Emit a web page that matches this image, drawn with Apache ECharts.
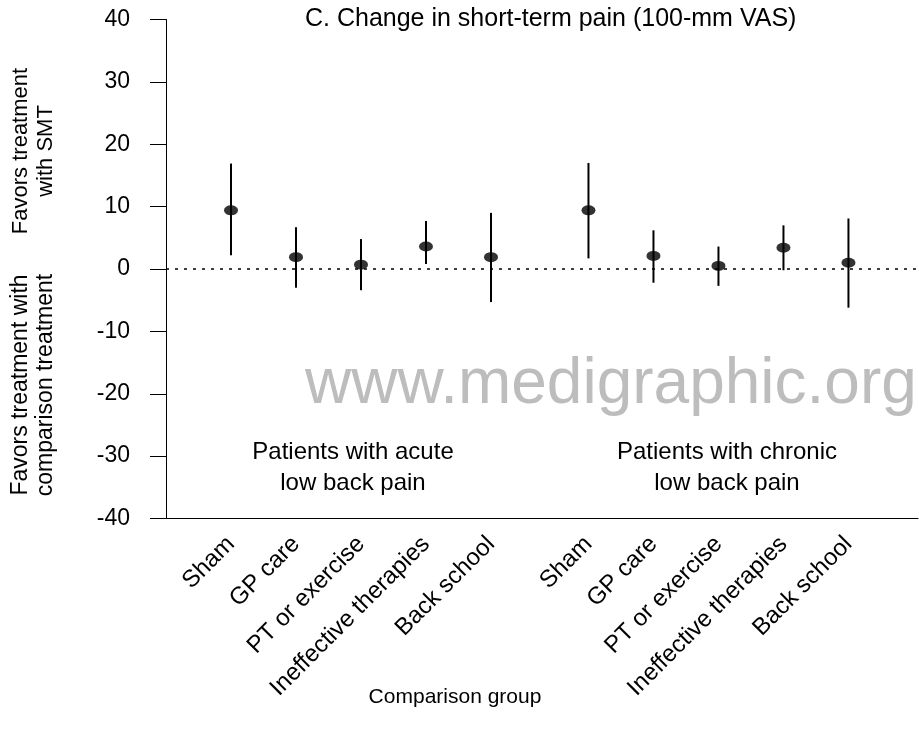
<!DOCTYPE html>
<html>
<head>
<meta charset="utf-8">
<script src="https://cdn.jsdelivr.net/npm/echarts@6/dist/echarts.min.js"></script>
<style>
html,body{margin:0;padding:0;background:#fff;}
#chart{width:919px;height:737px;}
</style>
</head>
<body>
<div id="chart"></div>
<script>
// ---- data ----
const categories = ['Sham', 'GP care', 'PT or exercise', 'Ineffective therapies', 'Back school'];
const groupLabels = ['Patients with acute\nlow back pain', 'Patients with chronic\nlow back pain'];
const acuteMean  = [9.4, 1.9, 0.7, 3.6, 1.9];
const acuteLower = [2.2, -3.0, -3.4, 0.8, -5.3];
const acuteUpper = [16.9, 6.7, 4.8, 7.7, 9.0];
const chronicMean  = [9.4, 2.1, 0.5, 3.4, 1.0];
const chronicLower = [1.7, -2.2, -2.7, -0.2, -6.2];
const chronicUpper = [17.0, 6.2, 3.6, 7.0, 8.1];
const yMin = -40, yMax = 40, yStep = 10;
const titleText = 'C. Change in short-term pain (100-mm VAS)';
const xAxisName = 'Comparison group';
const yUpperName = 'Favors treatment\nwith SMT';
const yLowerName = 'Favors treatment with\ncomparison treatment';
const watermark = 'www.medigraphic.org';

// ---- build positions: group g, item i -> x = g*5.5 + i + 1 ----
const groupsData = [
  {mean: acuteMean, lo: acuteLower, hi: acuteUpper},
  {mean: chronicMean, lo: chronicLower, hi: chronicUpper}
];
const xs = [], labels = [], points = [], bars = [];
groupsData.forEach((g, gi) => {
  categories.forEach((c, i) => {
    const x = gi * 5.5 + i + 1;
    xs.push(x);
    labels.push(c);
    points.push([x, g.mean[i]]);
    bars.push([x, g.lo[i], g.hi[i]]);
  });
});

const FONT = '"Liberation Sans", Arial, Helvetica, sans-serif';
const chart = echarts.init(document.getElementById('chart'), null, {renderer: 'canvas'});
chart.setOption({
  animation: false,
  backgroundColor: '#fff',
  textStyle: {fontFamily: FONT, color: '#000'},
  grid: {left: 166, top: 19.5, right: 1, bottom: 218.5, containLabel: false},
  xAxis: {
    type: 'value', min: 0, max: 11.57,
    axisLine: {show: true, onZero: false, lineStyle: {color: '#000', width: 1}},
    axisTick: {show: false},
    splitLine: {show: false},
    axisLabel: {
      customValues: xs, rotate: 45, margin: 22,
      fontSize: 24, fontFamily: FONT, color: '#000',
      formatter: v => { const k = xs.findIndex(x => Math.abs(x - v) < 1e-6); return k >= 0 ? labels[k] : ''; }
    }
  },
  yAxis: {
    type: 'value', min: yMin, max: yMax, interval: yStep,
    axisLine: {show: true, lineStyle: {color: '#000', width: 1}},
    axisTick: {show: true, length: 16, lineStyle: {color: '#000', width: 1}},
    splitLine: {show: false},
    axisLabel: {margin: 36, fontSize: 23, fontFamily: FONT, color: '#000'}
  },
  series: [
    {
      type: 'custom',
      data: bars,
      renderItem: (params, api) => {
        const p1 = api.coord([api.value(0), api.value(1)]);
        const p2 = api.coord([api.value(0), api.value(2)]);
        return {type: 'line', shape: {x1: p1[0], y1: p1[1], x2: p2[0], y2: p2[1]},
                style: {stroke: '#000', lineWidth: 2}};
      },
      markLine: {
        silent: true, symbol: 'none', label: {show: false},
        lineStyle: {color: '#000', width: 1.5, type: [3, 6]},
        data: [{yAxis: 0}]
      },
      z: 2
    },
    {
      type: 'scatter',
      data: points,
      symbol: 'circle',
      symbolSize: [14, 10],
      itemStyle: {color: '#000'},
      z: 3
    }
  ],
  graphic: [
    {type: 'text', left: 305, top: 7, style: {text: titleText, font: '25px ' + FONT, fill: '#000'}},
    {type: 'text', x: 305, y: 385, style: {text: watermark, font: '64px ' + FONT, fill: '#bdbdbd', verticalAlign: 'middle'}, z: 0},
    {type: 'text', x: 353, y: 468, style: {text: groupLabels[0], font: '24px ' + FONT, fill: '#000', align: 'center', verticalAlign: 'middle', lineHeight: 31}},
    {type: 'text', x: 727, y: 468, style: {text: groupLabels[1], font: '24px ' + FONT, fill: '#000', align: 'center', verticalAlign: 'middle', lineHeight: 31}},
    {type: 'text', x: 455, y: 697, style: {text: xAxisName, font: '21px ' + FONT, fill: '#000', align: 'center', verticalAlign: 'middle'}},
    {type: 'text', x: 33, y: 151, rotation: Math.PI / 2, style: {text: yUpperName, font: '22px ' + FONT, fill: '#000', align: 'center', verticalAlign: 'middle', lineHeight: 25}},
    {type: 'text', x: 33, y: 385, rotation: Math.PI / 2, style: {text: yLowerName, font: '23px ' + FONT, fill: '#000', align: 'center', verticalAlign: 'middle', lineHeight: 25}}
  ]
});
</script>
</body>
</html>
